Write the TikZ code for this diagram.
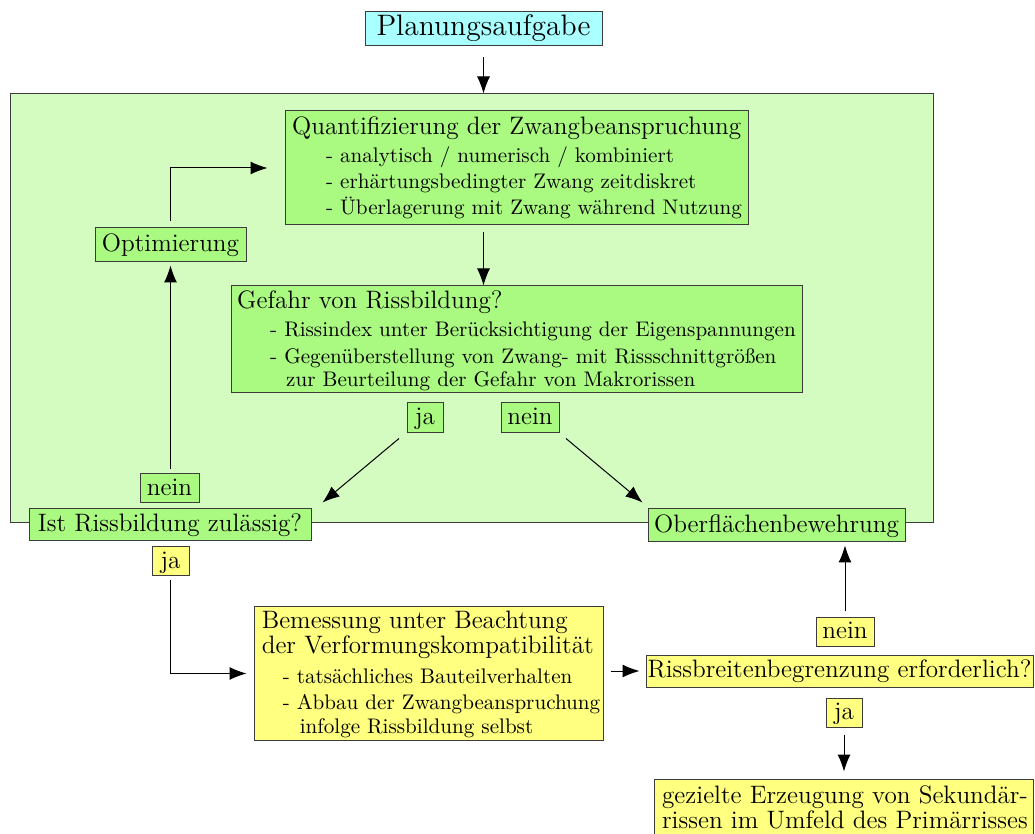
\documentclass[tikz,border=0pt]{standalone}
\usetikzlibrary{calc,arrows.meta}
\definecolor{regiongreen}{RGB}{213,252,192}
\definecolor{boxgreen}{RGB}{170,250,130}
\definecolor{boxyellow}{RGB}{255,255,128}
\definecolor{boxcyan}{RGB}{170,255,255}
\definecolor{bordergray}{RGB}{60,60,60}
\newcommand\fTitle{\fontsize{12.6}{14.8}\selectfont}
\newcommand\fItem{\fontsize{10.55}{12.7}\selectfont}
\newcommand\fBig{\fontsize{14.8}{17.4}\selectfont}
\newcommand\FirstLine[3]{\hbox{\vrule height #1 width 0pt\kern #2\relax #3}}
\newcommand\NextLine[3]{\baselineskip=#1\relax\hbox{\kern #2\relax #3}}
\tikzset{
  box/.style={draw=bordergray, line width=0.5pt, inner sep=0pt},
  onebox/.style={box, font=\fTitle, text height=9pt, text depth=2.4pt},
  arr/.style={line width=0.5pt, -{Latex[length=8.5pt,width=6.5pt]}}
}
\begin{document}
\begin{tikzpicture}[x=0.5pt,y=-0.5pt]
\useasboundingbox (0,0) rectangle (1035,834);
% region
\node[box, fill=regiongreen, minimum width=461.5pt, minimum height=214.5pt] (region) at (471.5,308.5) {};
% top
\node[box, fill=boxcyan, font=\fBig, text height=10.5pt, text depth=3.5pt, minimum width=118.5pt, minimum height=17pt] (plan) at (483.5,29) {Planungsaufgabe};
% quantification
\node[box, fill=boxgreen, minimum width=231.5pt, minimum height=57pt] (quant) at (516.5,168)
 {\parbox[c][57pt][t]{231.5pt}{\lineskiplimit=-\maxdimen
  \FirstLine{12pt}{0.5pt}{\fTitle Quantifizierung der Zwangbeanspruchung}
  \NextLine{14pt}{17.5pt}{\fItem - analytisch / numerisch / kombiniert}
  \NextLine{13pt}{17.5pt}{\fItem - erhärtungsbedingter Zwang zeitdiskret}
  \NextLine{13pt}{17.5pt}{\fItem - Überlagerung mit Zwang während Nutzung}}};
% danger
\node[box, fill=boxgreen, minimum width=285.5pt, minimum height=53.5pt] (gefahr) at (516.5,339.5)
 {\parbox[c][53.5pt][t]{285.5pt}{\lineskiplimit=-\maxdimen
  \FirstLine{11.5pt}{0pt}{\fTitle Gefahr von Rissbildung?}
  \NextLine{13.8pt}{16.5pt}{\fItem - Rissindex unter Berücksichtigung der Eigenspannungen}
  \NextLine{13.5pt}{16.5pt}{\fItem - Gegenüberstellung von Zwang- mit Rissschnittgrößen}
  \NextLine{11.5pt}{24.5pt}{\fItem zur Beurteilung der Gefahr von Makrorissen}}};
\node[onebox, fill=boxgreen, minimum width=75.5pt, minimum height=17pt] (optim) at (170.5,245) {Optimierung};
\node[onebox, fill=boxgreen, minimum width=18pt, minimum height=15pt] (ja1) at (425,418) {ja};
\node[onebox, fill=boxgreen, minimum width=29pt, minimum height=15pt] (nein1) at (530,418) {nein};
\node[onebox, fill=boxgreen, minimum width=29.5pt, minimum height=14.5pt] (nein2) at (169.5,488.5) {nein};
\node[onebox, fill=boxgreen, minimum width=141pt, minimum height=16pt] (ist) at (170,525) {Ist Rissbildung zulässig?};
\node[onebox, fill=boxgreen, minimum width=128.5pt, minimum height=16.5pt] (oberfl) at (776.5,525.5) {Oberflächenbewehrung};
\node[onebox, fill=boxyellow, minimum width=18.5pt, minimum height=14.5pt] (ja2) at (170.5,561.5) {ja};
% design
\node[box, fill=boxyellow, minimum width=174.5pt, minimum height=66.5pt] (bem) at (428.5,673.5)
 {\parbox[c][66.5pt][t]{174.5pt}{\lineskiplimit=-\maxdimen
  \FirstLine{10.5pt}{2.5pt}{\fTitle Bemessung unter Beachtung}
  \NextLine{12.8pt}{2.5pt}{\fTitle der Verformungskompatibilität}
  \NextLine{15pt}{13pt}{\fItem - tatsächliches Bauteilverhalten}
  \NextLine{13pt}{13pt}{\fItem - Abbau der Zwangbeanspruchung}
  \NextLine{11.8pt}{21.5pt}{\fItem infolge Rissbildung selbst}}};
\node[onebox, fill=boxyellow, minimum width=193.5pt, minimum height=16pt] (riss) at (839.5,671) {Rissbreitenbegrenzung erforderlich?};
\node[onebox, fill=boxyellow, minimum width=29pt, minimum height=14pt] (nein3) at (845,632) {nein};
\node[onebox, fill=boxyellow, minimum width=18pt, minimum height=14.5pt] (ja3) at (844,712.5) {ja};
\node[box, fill=boxyellow, minimum width=189.5pt, minimum height=29.5pt] (gez) at (843.5,808.5)
 {\parbox[c][29.5pt][t]{189.5pt}{\lineskiplimit=-\maxdimen
  \FirstLine{12pt}{1.5pt}{\fTitle gezielte Erzeugung von Sekundär-}
  \NextLine{12.5pt}{1.5pt}{\fTitle rissen im Umfeld des Primärrisses}}};
% connectors
\draw[arr] ($(plan.south)+(0,11)$) -- (plan.south |- region.north);
\draw[arr] ($(plan.south |- quant.south)+(0,7)$) -- (plan.south |- gefahr.north);
\draw[arr] ($(ja1.south)+(-26,5)$) -- ($(ist.north east)+(11,-6)$);
\draw[arr] ($(nein1.south)+(36,5)$) -- ($(oberfl.north west)+(-5,-6)$);
\draw[arr] ($(optim.south |- nein2.north)+(0,-4)$) -- ($(optim.south)+(0,3)$);
\draw[arr] ($(optim.north)+(0,-6)$) |- ($(quant.west)+(-17,0)$);
\draw[arr] ($(ja2.south)+(0,4)$) |- ($(bem.west)+(-7,0)$);
\draw[arr] ($(bem.east |- riss.west)+(7,0)$) -- ($(riss.west)+(-6,0)$);
\draw[arr] ($(nein3.north)+(0,-6)$) -- ($(nein3.north |- oberfl.south)+(0,3)$);
\draw[arr] ($(ja3.south)+(0,7)$) -- ($(ja3.south |- gez.north)+(0,-7)$);
\end{tikzpicture}
\end{document}
